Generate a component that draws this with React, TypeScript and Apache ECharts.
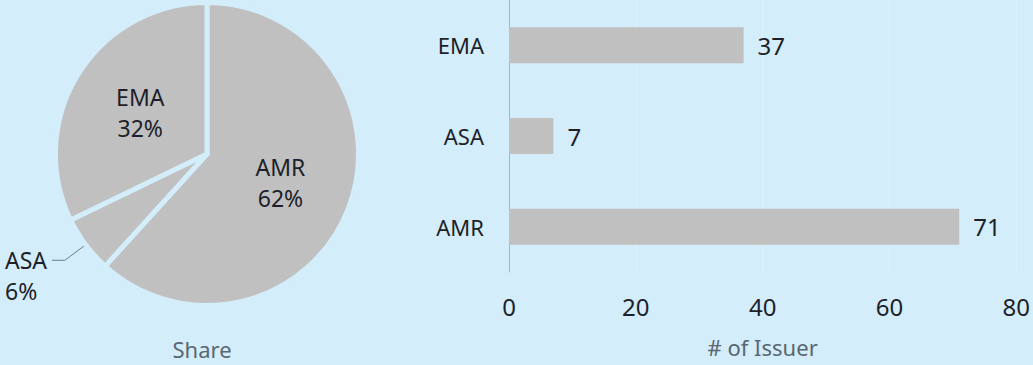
import React, { useEffect, useRef } from "react";
import * as echarts from "echarts";

// Issuer counts per region (shared by the pie and the bar chart)
const regions = ["AMR", "ASA", "EMA"];
const issuerCounts = [71, 7, 37];

// Value axis range for the bar chart
const countAxisMin = 0;
const countAxisMax = 80;
const countAxisStep = 20;

const pieTitle = "Share";
const barAxisTitle = "# of Issuer";

const BG = "#d3edfa";
const MARK = "#c0c0c0";
const INK = "#1d1f29";
const MUTED = "#5a6670";
const FONT = "'Noto Sans', sans-serif";

export default function App() {
  const ref = useRef<HTMLDivElement>(null);

  useEffect(() => {
    if (!ref.current) return;
    const chart = echarts.init(ref.current, null, { renderer: "svg" });

    const pieData = regions.map((name, i) => {
      const item: any = { name, value: issuerCounts[i] };
      if (name === "ASA") {
        // small slice: outside label, first line level with the leader line
        item.label = {
          position: "outside",
          alignTo: "edge",
          edgeDistance: 5,
          formatter: "\n{b}\n{d}%",
        };
        item.labelLine = {
          show: true,
          length: 26,
          length2: 10,
          lineStyle: { color: "#6e7c87", width: 1 },
        };
      }
      return item;
    });

    chart.setOption({
      animation: false,
      backgroundColor: BG,
      textStyle: { fontFamily: FONT },
      graphic: [
        {
          type: "text",
          x: 202,
          y: 349,
          style: {
            text: pieTitle,
            align: "center",
            verticalAlign: "middle",
            fontSize: 22,
            fontFamily: FONT,
            fill: MUTED,
          },
        },
      ],
      grid: { left: 509, right: 16, top: 0, bottom: 93, containLabel: false },
      xAxis: {
        type: "value",
        min: countAxisMin,
        max: countAxisMax,
        interval: countAxisStep,
        axisLine: { show: false },
        axisTick: { show: false },
        splitLine: { show: true, lineStyle: { color: "#dff1fb", width: 1 } },
        axisLabel: { fontSize: 24, margin: 22, color: INK, fontFamily: FONT },
        name: barAxisTitle,
        nameLocation: "middle",
        nameGap: 64,
        nameTextStyle: { fontSize: 22, color: MUTED, fontFamily: FONT },
      },
      yAxis: {
        type: "category",
        data: regions,
        axisLine: { show: true, lineStyle: { color: "#a2b5c1", width: 1 } },
        axisTick: { show: false },
        axisLabel: { fontSize: 22, margin: 25, color: INK, fontFamily: FONT },
      },
      series: [
        {
          type: "pie",
          center: [207, 154],
          radius: 151.5,
          startAngle: 90,
          clockwise: true,
          percentPrecision: 0,
          itemStyle: { color: MARK, borderColor: BG, borderWidth: 5 },
          label: {
            position: "inside",
            formatter: "{b}\n{d}%",
            fontSize: 23,
            lineHeight: 31,
            color: INK,
            fontFamily: FONT,
          },
          labelLine: { show: false },
          emphasis: { disabled: true },
          data: pieData,
        },
        {
          type: "bar",
          data: issuerCounts,
          barWidth: 36,
          itemStyle: { color: MARK },
          label: {
            show: true,
            position: "right",
            distance: 14,
            fontSize: 24,
            color: INK,
            fontFamily: FONT,
          },
          emphasis: { disabled: true },
        },
      ],
    });

    return () => chart.dispose();
  }, []);

  return (
    <div
      ref={ref}
      style={{ position: "absolute", left: 0, top: 0, width: 1033, height: 365 }}
    />
  );
}
